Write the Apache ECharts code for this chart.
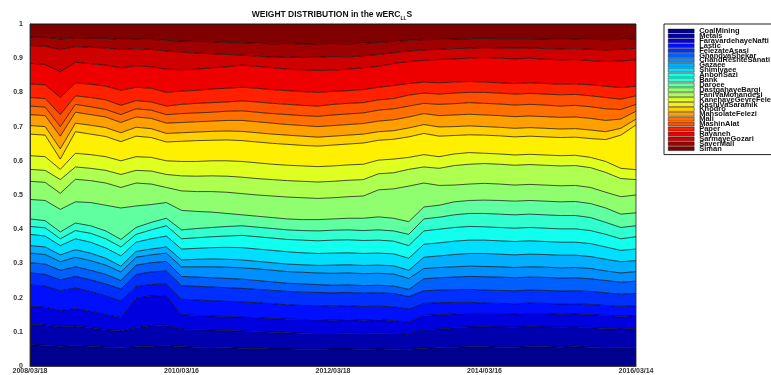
<!DOCTYPE html>
<html>
<head>
<meta charset="utf-8">
<script src="https://cdn.jsdelivr.net/npm/echarts@6/dist/echarts.min.js"></script>
<style>
  html, body { margin: 0; padding: 0; background: #fff; }
  #chart { width: 771px; height: 375px; }
</style>
</head>
<body>
<div id="chart"></div>
<script>
// Date ticks shown under the axis, one every `pointsPerTick` samples
const tickLabels = ['2008/03/18', '2010/03/16', '2012/03/18', '2014/03/16', '2016/03/14'];
const pointsPerTick = 10;

const sectorNames = [
  'CoalMining', 'Metals', 'FaravardehayeNafti', 'Lastic', 'FelezateAsasi',
  'GhandvaShekar', 'ChandReshteSanati', 'Gazaee', 'Shimiyaee', 'AnbohSazi',
  'Bank', 'Daroee', 'DastgahayeBargi', 'FaniVaMohandesi', 'KanehayeGeyreFelezi',
  'KashiVaSaramik', 'Khodro', 'MahsolateFelezi', 'Mali', 'MashinAlat',
  'Paper', 'Rayaneh', 'SarmayeGozari', 'SayerMali', 'Siman'
];

// Cumulative portfolio weight up to and including each sector (upper edge of its band).
// The last sector (Siman) always closes the portfolio at 1.
const coalMining = [.062,.061,.058,.060,.058,.055,.053,.056,.058,.060, .056,.055,.054,.053,.052,.051,.050,.050,.049,.049, .050,.050,.049,.050,.049,.048,.052,.053,.055,.056, .056,.055,.055,.056,.056,.055,.056,.055,.054,.053, .054];
const metals = [.122,.120,.114,.117,.112,.106,.102,.112,.118,.120, .108,.106,.105,.104,.102,.100,.099,.097,.096,.095, .095,.096,.095,.096,.095,.093,.106,.108,.112,.114, .115,.114,.113,.115,.114,.113,.114,.112,.110,.108, .110];
const faravardehayeNafti = [.175,.172,.162,.168,.160,.150,.142,.198,.205,.206, .150,.148,.146,.145,.143,.141,.139,.137,.136,.135, .134,.135,.134,.135,.133,.128,.148,.150,.152,.154, .154,.153,.152,.154,.153,.151,.152,.150,.148,.145, .147];
const lastic = [.237,.234,.220,.228,.218,.205,.190,.232,.238,.240, .195,.193,.191,.189,.187,.185,.182,.179,.177,.176, .175,.176,.174,.175,.173,.166,.183,.185,.186,.186, .184,.183,.182,.184,.183,.181,.182,.180,.177,.174, .176];
const felezateAsasi = [.272,.268,.252,.262,.252,.240,.225,.268,.275,.278, .235,.233,.231,.229,.227,.224,.221,.218,.216,.215, .214,.215,.213,.214,.212,.203,.220,.222,.223,.224, .222,.221,.220,.222,.221,.219,.220,.218,.214,.210, .212];
const ghandVaShekar = [.302,.298,.280,.290,.280,.268,.250,.295,.302,.306, .262,.260,.258,.256,.254,.250,.246,.242,.240,.238, .236,.237,.235,.236,.234,.224,.255,.258,.260,.262, .261,.260,.258,.260,.259,.257,.258,.255,.250,.245, .248];
const chandReshteSanati = [.330,.326,.305,.318,.308,.295,.275,.318,.325,.330, .290,.290,.290,.289,.287,.284,.280,.276,.274,.272, .271,.272,.270,.271,.269,.256,.285,.288,.290,.292, .291,.290,.288,.290,.289,.287,.288,.285,.278,.272, .276];
const gazaee = [.352,.348,.325,.340,.330,.315,.292,.335,.342,.348, .310,.312,.313,.312,.310,.306,.302,.298,.296,.294, .295,.296,.294,.295,.293,.280,.318,.322,.326,.329, .329,.327,.325,.327,.326,.324,.324,.320,.312,.305, .308];
const shimiyaee = [.385,.380,.352,.372,.362,.345,.322,.362,.372,.380, .342,.344,.346,.347,.346,.342,.338,.334,.331,.329, .330,.331,.329,.330,.328,.315,.356,.360,.365,.368, .368,.366,.364,.366,.364,.362,.362,.358,.348,.338, .342];
const anbohSazi = [.408,.404,.372,.396,.388,.372,.348,.385,.398,.410, .372,.375,.378,.380,.382,.378,.374,.370,.368,.366, .368,.369,.367,.368,.365,.352,.395,.400,.405,.408, .407,.405,.403,.405,.403,.401,.401,.396,.385,.372, .378];
const bank = [.430,.425,.392,.418,.410,.395,.370,.405,.420,.432, .398,.402,.405,.408,.410,.406,.402,.398,.396,.395, .397,.398,.396,.398,.395,.385,.430,.435,.442,.446, .446,.444,.442,.444,.442,.440,.440,.434,.420,.405, .410];
const daroee = [.487,.484,.458,.480,.478,.470,.462,.468,.472,.478, .455,.452,.450,.446,.442,.438,.434,.430,.428,.428, .430,.432,.432,.436,.432,.422,.465,.470,.480,.484, .485,.484,.482,.484,.482,.480,.481,.475,.462,.444, .448];
const dastgahayeBargi = [.540,.537,.505,.546,.542,.535,.522,.535,.532,.522, .512,.510,.510,.508,.504,.500,.497,.494,.492,.490, .492,.495,.497,.515,.518,.526,.535,.528,.529,.532, .534,.532,.529,.531,.529,.527,.528,.522,.508,.495, .500];
const faniVaMohandesi = [.575,.572,.545,.582,.578,.572,.560,.572,.570,.560, .556,.555,.556,.555,.552,.548,.545,.542,.540,.538, .540,.543,.545,.562,.565,.575,.582,.578,.586,.590, .592,.590,.587,.589,.587,.585,.586,.580,.566,.548, .545];
const kanehayeGeyreFelezi = [.615,.612,.575,.622,.618,.612,.600,.612,.610,.600, .598,.598,.600,.600,.598,.594,.590,.587,.585,.583, .585,.588,.590,.602,.605,.610,.618,.612,.620,.624, .622,.620,.617,.619,.617,.615,.616,.610,.598,.578, .574];
const kashiVaSaramik = [.678,.675,.605,.685,.678,.671,.656,.672,.668,.655, .657,.659,.660,.661,.659,.655,.651,.648,.645,.643, .646,.649,.652,.660,.663,.670,.680,.672,.674,.676, .675,.673,.670,.672,.670,.668,.669,.665,.662,.675, .705];
const khodro = [.703,.700,.635,.710,.704,.697,.682,.698,.694,.680, .682,.684,.686,.687,.686,.682,.678,.675,.672,.669, .672,.675,.678,.685,.688,.696,.706,.699,.700,.702, .700,.698,.695,.697,.695,.693,.694,.690,.685,.695, .722];
const mahsolateFelezi = [.735,.732,.672,.742,.735,.728,.712,.728,.724,.710, .712,.714,.716,.718,.718,.714,.710,.706,.703,.700, .703,.706,.709,.716,.720,.728,.738,.732,.734,.736, .734,.732,.729,.731,.729,.727,.728,.724,.718,.722, .745];
const mali = [.760,.757,.700,.765,.758,.750,.735,.752,.748,.735, .738,.740,.742,.745,.746,.742,.738,.735,.732,.730, .734,.737,.740,.748,.752,.760,.768,.765,.767,.770, .768,.766,.763,.765,.763,.760,.762,.758,.752,.750, .765];
const mashinAlat = [.785,.782,.735,.790,.785,.778,.762,.776,.772,.760, .765,.768,.770,.772,.775,.772,.768,.765,.762,.760, .765,.768,.770,.778,.782,.792,.798,.795,.798,.800, .800,.798,.795,.797,.795,.793,.794,.790,.785,.780, .790];
const paper = [.825,.822,.785,.828,.824,.818,.806,.815,.812,.800, .804,.806,.810,.812,.815,.812,.808,.805,.802,.800, .803,.805,.808,.815,.820,.826,.830,.828,.830,.832, .830,.828,.826,.828,.826,.824,.825,.822,.818,.814, .818];
const rayaneh = [.885,.882,.860,.888,.884,.880,.872,.878,.875,.868, .866,.868,.872,.875,.880,.876,.872,.868,.866,.864, .865,.868,.872,.876,.885,.890,.894,.896,.898,.900, .902,.900,.898,.900,.897,.895,.896,.893,.890,.892, .895];
const sarmayeGozari = [.937,.935,.925,.934,.932,.930,.925,.928,.926,.921, .918,.915,.913,.911,.909,.906,.903,.904,.902,.903, .905,.904,.907,.911,.916,.921,.924,.926,.928,.929, .931,.930,.929,.930,.928,.927,.928,.926,.924,.926, .929];
const sayerMali = [.962,.961,.956,.960,.959,.958,.955,.956,.955,.952, .950,.949,.948,.946,.945,.944,.942,.943,.941,.942, .943,.942,.944,.946,.949,.952,.954,.955,.956,.957, .958,.957,.957,.957,.956,.955,.956,.955,.954,.955, .957];

const sectorTops = [
  coalMining, metals, faravardehayeNafti, lastic, felezateAsasi,
  ghandVaShekar, chandReshteSanati, gazaee, shimiyaee, anbohSazi,
  bank, daroee, dastgahayeBargi, faniVaMohandesi, kanehayeGeyreFelezi,
  kashiVaSaramik, khodro, mahsolateFelezi, mali, mashinAlat,
  paper, rayaneh, sarmayeGozari, sayerMali
];

const categories = coalMining.map((_, k) => k);

// MATLAB-style "jet" colormap (64 entries) indexed by series order
function jetColor(idx, count) {
  const k = Math.min(64, Math.floor(idx * 64 / (count - 1)) + 1);
  const t = k / 64;
  const c = v => Math.round(255 * Math.max(0, Math.min(1, v)));
  const r = c(1.5 - Math.abs(4 * t - 3));
  const g = c(1.5 - Math.abs(4 * t - 2));
  const b = c(1.5 - Math.abs(4 * t - 1));
  return `rgb(${r},${g},${b})`;
}

const series = sectorNames.map((name, s) => {
  const top = sectorTops[s];
  const below = s > 0 ? sectorTops[s - 1] : null;
  const data = categories.map(k => {
    const hi = top ? top[k] : 1;
    const lo = below ? below[k] : 0;
    return +(hi - lo).toFixed(4);
  });
  const color = jetColor(s, sectorNames.length);
  return {
    name,
    type: 'line',
    stack: 'weights',
    data,
    symbol: 'none',
    silent: true,
    z: 60 - s,
    color,
    itemStyle: { color },
    areaStyle: { color, opacity: 1 },
    lineStyle: { color: '#000', width: 0.8, opacity: 0.85 }
  };
});

const chart = echarts.init(document.getElementById('chart'), null, { renderer: 'canvas' });
chart.setOption({
  animation: false,
  backgroundColor: '#fff',
  textStyle: { fontFamily: 'Liberation Sans, Arial, sans-serif' },
  graphic: [{
    type: 'text',
    x: 332,
    y: 15,
    style: {
      text: '{m|WEIGHT DISTRIBUTION in the wERC}{s|LL}{m|S}',
      align: 'center',
      verticalAlign: 'middle',
      rich: {
        m: { fontSize: 8.5, fontWeight: 'bold', fontFamily: 'Liberation Sans', fill: '#111', lineHeight: 12, verticalAlign: 'middle' },
        s: { fontSize: 5, fontWeight: 'bold', fontFamily: 'Liberation Sans', fill: '#111', lineHeight: 12, verticalAlign: 'bottom' }
      }
    }
  }],
  grid: {
    left: 30, right: 135, top: 24, bottom: 9,
    show: true, borderColor: '#222', borderWidth: 0.8, z: 100
  },
  legend: {
    orient: 'vertical',
    left: 664,
    top: 24,
    icon: 'rect',
    itemWidth: 26,
    itemHeight: 4,
    itemGap: -3.1,
    padding: [3, 4, 2, 4],
    borderColor: '#222',
    borderWidth: 1,
    backgroundColor: '#fff',
    selectedMode: false,
    itemStyle: { borderColor: '#000', borderWidth: 0.4 },
    textStyle: { fontSize: 7.5, fontWeight: 'bold', color: '#111', fontFamily: 'Liberation Sans' }
  },
  xAxis: {
    type: 'category',
    data: categories,
    boundaryGap: false,
    z: 100,
    axisLine: { lineStyle: { color: '#222', width: 0.8 } },
    axisTick: { show: false },
    axisLabel: {
      interval: pointsPerTick - 1,
      margin: 2,
      fontSize: 7,
      fontWeight: 'bold',
      color: '#333',
      formatter: v => tickLabels[Math.round(v / pointsPerTick)] || ''
    },
    splitLine: { show: false }
  },
  yAxis: {
    type: 'value',
    min: 0,
    max: 1,
    interval: 0.1,
    z: 100,
    axisLine: { show: true, lineStyle: { color: '#222', width: 0.8 } },
    axisTick: { show: false },
    axisLabel: {
      margin: 7,
      fontSize: 7,
      fontWeight: 'bold',
      color: '#333',
      formatter: v => String(+v.toFixed(1))
    },
    splitLine: { show: false }
  },
  series
});
</script>
</body>
</html>
